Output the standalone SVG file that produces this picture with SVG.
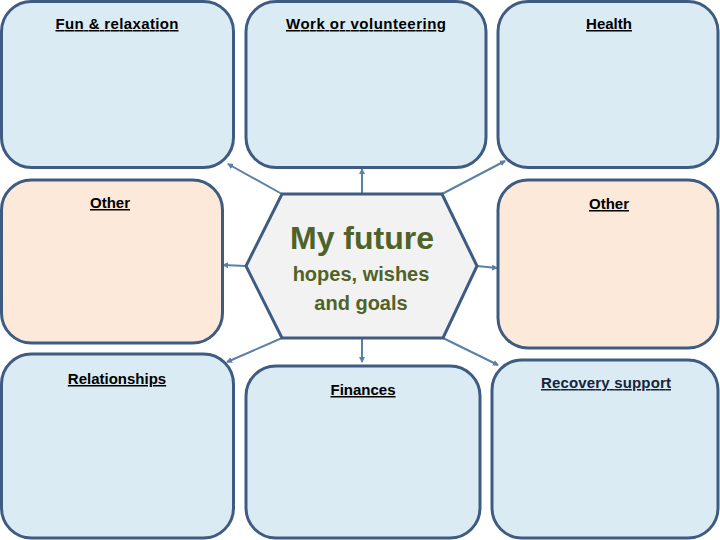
<svg xmlns="http://www.w3.org/2000/svg" width="720" height="540" viewBox="0 0 720 540">
<defs>
<style>
.box{stroke:#3e5c82;stroke-width:3}
.blue{fill:#daebf3}
.peach{fill:#fde9da}
.lbl{font-family:"Liberation Sans",Arial,sans-serif;font-size:15px;font-weight:bold;fill:#000;text-anchor:middle;text-decoration:underline}
.conn{stroke:#5a80a8;stroke-width:2;fill:none;marker-end:url(#ah)}
.ctr{font-family:"Liberation Sans",Arial,sans-serif;font-weight:bold;fill:#4f6228;text-anchor:middle}
</style>
<marker id="ah" viewBox="0 0 6 6" refX="5" refY="3" markerWidth="3" markerHeight="3" orient="auto">
<path d="M0,0 L6,3 L0,6 z" fill="#5a80a8"/>
</marker>
</defs>
<rect width="720" height="540" fill="#ffffff"/>
<g id="connectors">
<line class="conn" x1="282" y1="194" x2="228" y2="164"/>
<line class="conn" x1="362" y1="194" x2="362" y2="169"/>
<line class="conn" x1="442" y1="194" x2="505" y2="161"/>
<line class="conn" x1="246" y1="266" x2="223" y2="265"/>
<line class="conn" x1="477" y1="266" x2="497" y2="268"/>
<line class="conn" x1="282" y1="338" x2="227" y2="362"/>
<line class="conn" x1="362" y1="338" x2="362" y2="362"/>
<line class="conn" x1="443" y1="338" x2="498" y2="365"/>
</g>
<g id="fun">
<rect class="box blue" x="1.5" y="1.5" width="232" height="166" rx="30"/>
<text class="lbl" x="117" y="29" textLength="123">Fun &amp; relaxation</text>
</g>
<g id="work">
<rect class="box blue" x="246" y="1.5" width="240" height="166" rx="30"/>
<text class="lbl" x="366" y="29" textLength="160">Work or volunteering</text>
</g>
<g id="health">
<rect class="box blue" x="498" y="1.5" width="220" height="166" rx="30"/>
<text class="lbl" x="609" y="29">Health</text>
</g>
<g id="other-left">
<rect class="box peach" x="1.5" y="180" width="221" height="163" rx="30"/>
<text class="lbl" x="110" y="208">Other</text>
</g>
<g id="other-right">
<rect class="box peach" x="498" y="180" width="220" height="168" rx="30"/>
<text class="lbl" x="609" y="209">Other</text>
</g>
<g id="relationships">
<rect class="box blue" x="1.5" y="354" width="232" height="184" rx="30"/>
<text class="lbl" x="117" y="384">Relationships</text>
</g>
<g id="finances">
<rect class="box blue" x="246" y="366" width="234" height="172" rx="30"/>
<text class="lbl" x="363" y="395">Finances</text>
</g>
<g id="recovery">
<rect class="box blue" x="492" y="360" width="226" height="178" rx="30"/>
<text class="lbl" x="606" y="388" textLength="130" style="fill:#13243c">Recovery support</text>
</g>
<g id="center">
<polygon points="282,194 442,194 477,266 443,338 282,338 246,266" fill="#f2f2f2" stroke="#3e5c82" stroke-width="3"/>
<text class="ctr" x="362" y="249" font-size="32">My future</text>
<text class="ctr" x="361" y="281" font-size="20">hopes, wishes</text>
<text class="ctr" x="361" y="310" font-size="20">and goals</text>
</g>
</svg>
